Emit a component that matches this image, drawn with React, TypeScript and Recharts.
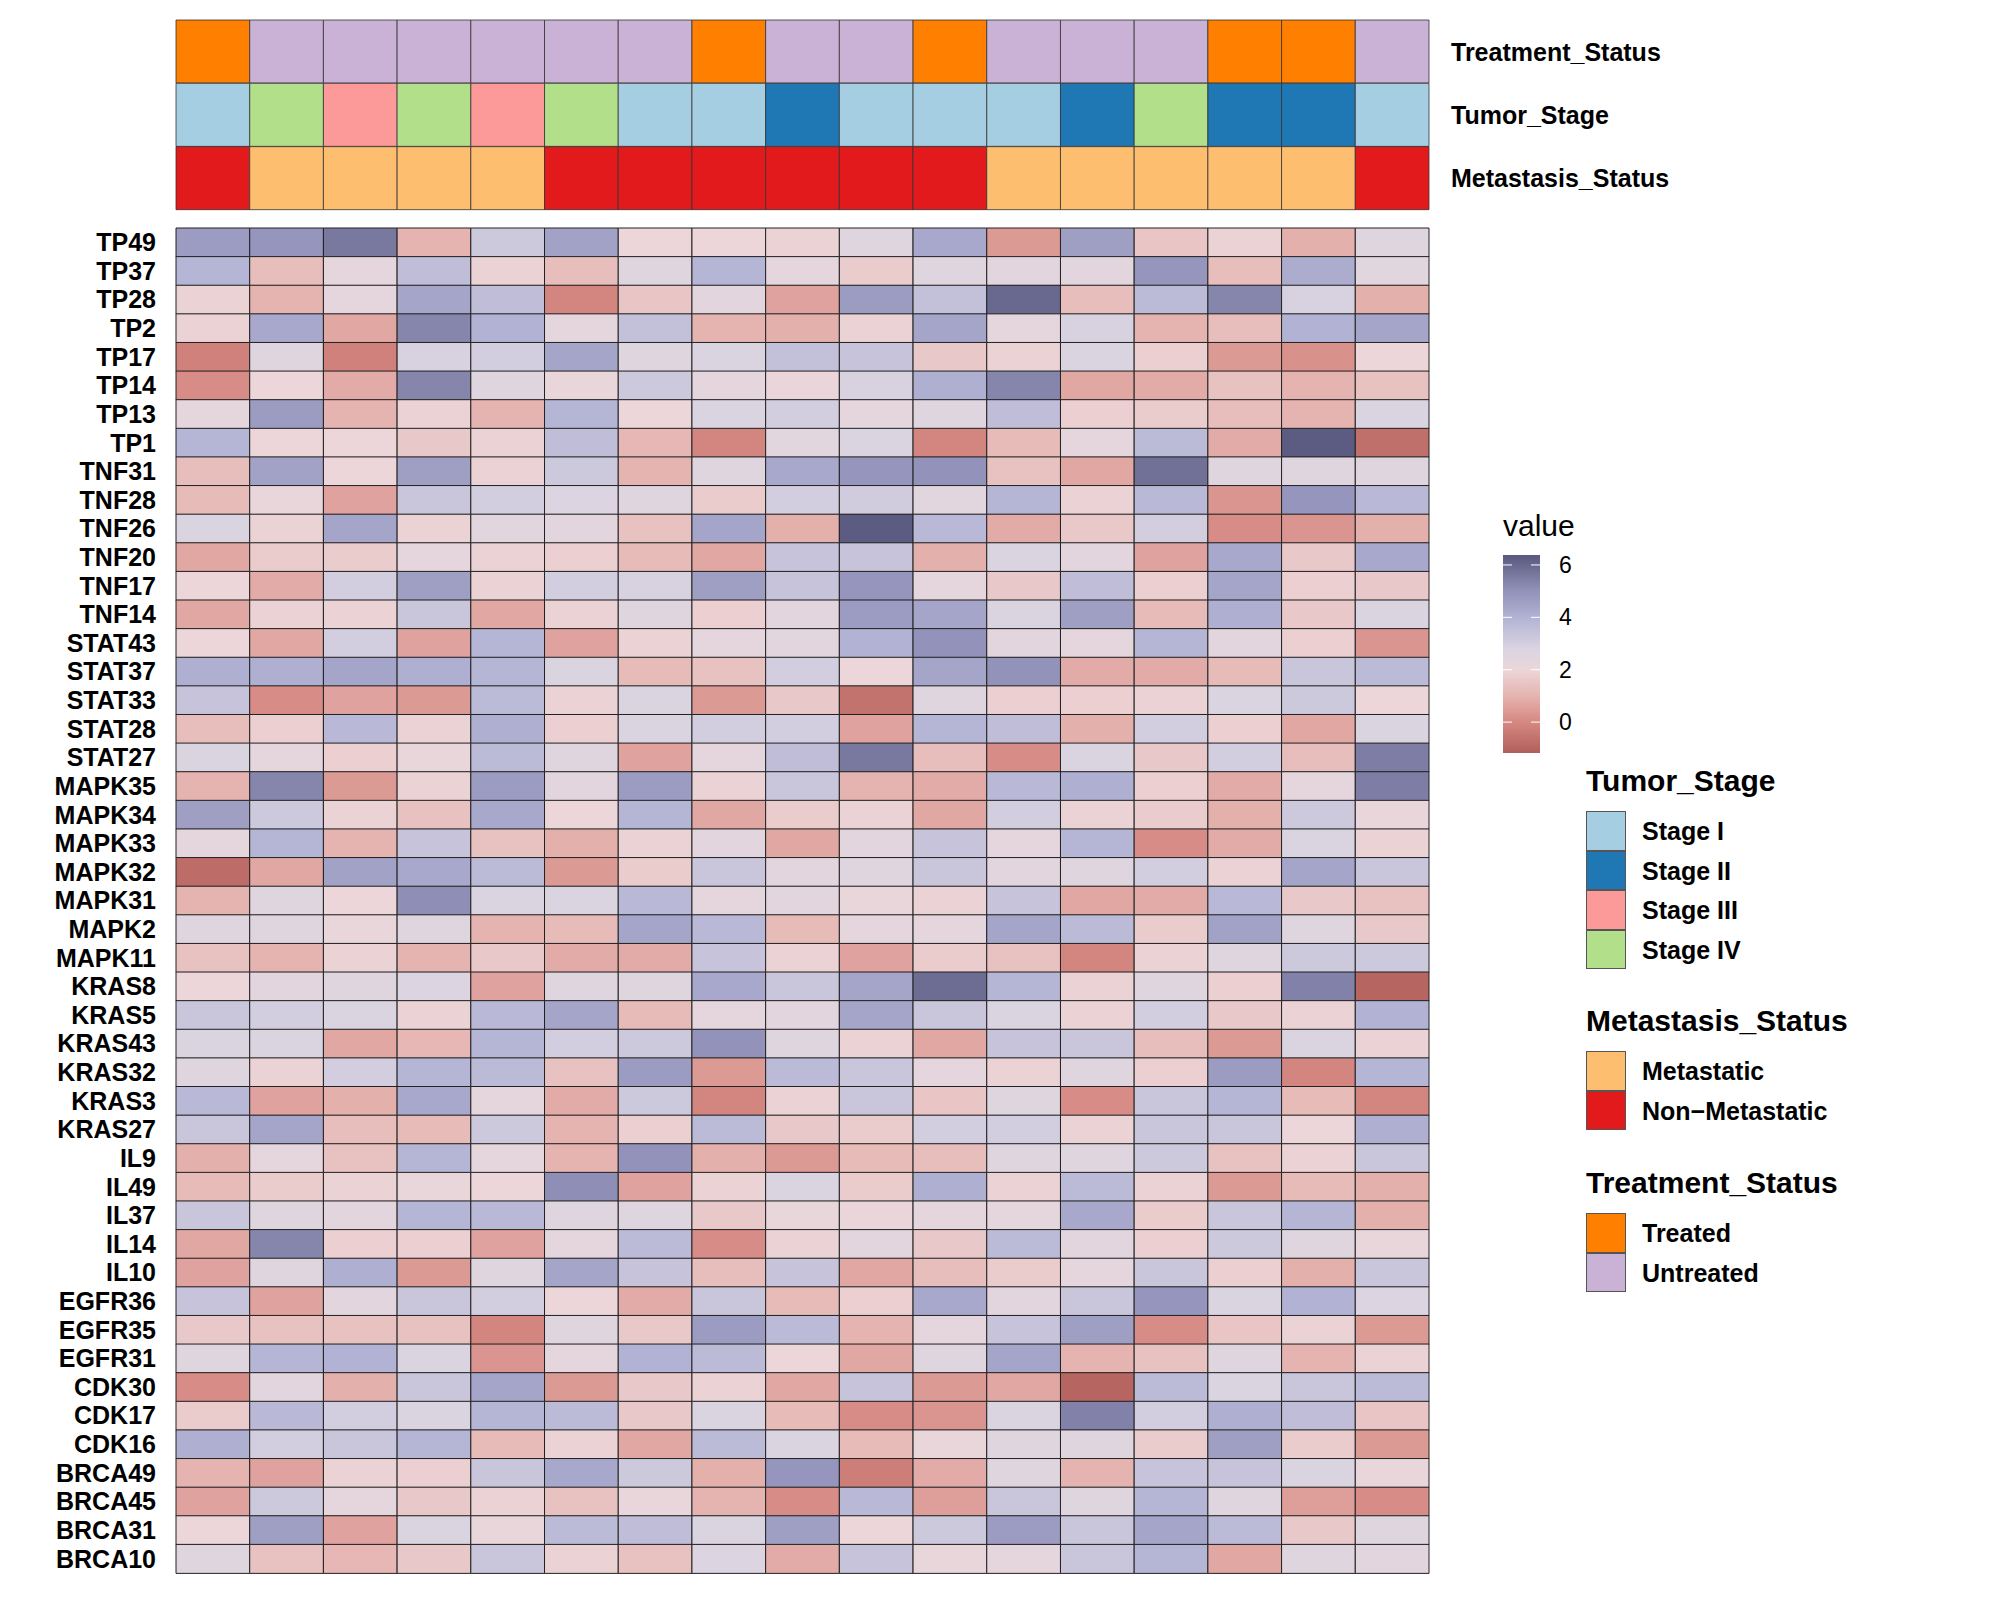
import React from 'react';
import { BarChart, Bar, XAxis, YAxis, Cell } from 'recharts';

// columns (samples) and rows (genes), top to bottom
const samples = ['S1', 'S2', 'S3', 'S4', 'S5', 'S6', 'S7', 'S8', 'S9', 'S10', 'S11', 'S12', 'S13', 'S14', 'S15', 'S16', 'S17'];
const genes = [
  'TP49', 'TP37', 'TP28', 'TP2', 'TP17', 'TP14', 'TP13', 'TP1',
  'TNF31', 'TNF28', 'TNF26', 'TNF20', 'TNF17', 'TNF14',
  'STAT43', 'STAT37', 'STAT33', 'STAT28', 'STAT27',
  'MAPK35', 'MAPK34', 'MAPK33', 'MAPK32', 'MAPK31', 'MAPK2', 'MAPK11',
  'KRAS8', 'KRAS5', 'KRAS43', 'KRAS32', 'KRAS3', 'KRAS27',
  'IL9', 'IL49', 'IL37', 'IL14', 'IL10',
  'EGFR36', 'EGFR35', 'EGFR31',
  'CDK30', 'CDK17', 'CDK16',
  'BRCA49', 'BRCA45', 'BRCA31', 'BRCA10',
];

// annotation tracks, one entry per sample
const treatment = ['Treated', 'Untreated', 'Untreated', 'Untreated', 'Untreated', 'Untreated', 'Untreated', 'Treated', 'Untreated', 'Untreated', 'Treated', 'Untreated', 'Untreated', 'Untreated', 'Treated', 'Treated', 'Untreated'];
const tumorStage = ['Stage I', 'Stage IV', 'Stage III', 'Stage IV', 'Stage III', 'Stage IV', 'Stage I', 'Stage I', 'Stage II', 'Stage I', 'Stage I', 'Stage I', 'Stage II', 'Stage IV', 'Stage II', 'Stage II', 'Stage I'];
const metastasis = ['Non-Metastatic', 'Metastatic', 'Metastatic', 'Metastatic', 'Metastatic', 'Non-Metastatic', 'Non-Metastatic', 'Non-Metastatic', 'Non-Metastatic', 'Non-Metastatic', 'Non-Metastatic', 'Metastatic', 'Metastatic', 'Metastatic', 'Metastatic', 'Metastatic', 'Non-Metastatic'];

// expression values, one row per gene (same order as genes)
const expr: number[][] = [
  [4.7, 4.9, 5.6, 1.0, 3.2, 4.5, 2.0, 2.0, 1.9, 2.6, 4.3, 0.4, 4.6, 1.5, 1.9, 0.9, 2.6], // TP49
  [3.9, 1.3, 2.3, 3.6, 1.9, 1.3, 2.6, 3.9, 2.3, 1.7, 2.6, 2.4, 2.4, 4.9, 1.3, 4.2, 2.5], // TP37
  [1.9, 1.0, 2.3, 4.4, 3.6, -0.1, 1.5, 2.4, 0.6, 4.7, 3.5, 6.0, 1.3, 3.7, 5.3, 2.9, 0.9], // TP28
  [1.9, 4.3, 0.7, 5.3, 4.0, 2.3, 3.5, 1.0, 0.9, 1.9, 4.4, 2.3, 2.9, 1.0, 1.3, 4.0, 4.4], // TP2
  [-0.2, 2.6, -0.2, 2.9, 3.0, 4.4, 2.6, 2.8, 3.5, 3.4, 1.6, 1.9, 2.8, 1.8, 0.4, 0.2, 2.0], // TP17
  [0.1, 2.0, 0.8, 5.3, 2.6, 2.2, 3.2, 2.3, 2.1, 2.9, 4.1, 5.3, 0.7, 0.8, 1.4, 1.0, 1.4], // TP14
  [2.3, 4.7, 1.0, 1.9, 1.0, 3.9, 2.0, 2.8, 3.0, 2.3, 2.6, 3.6, 1.8, 1.7, 1.3, 1.0, 2.8], // TP13
  [3.9, 2.0, 2.0, 1.6, 1.9, 3.6, 1.1, -0.1, 2.5, 2.8, -0.1, 1.2, 2.3, 3.7, 0.8, 6.3, -0.7], // TP1
  [1.3, 4.5, 2.0, 4.6, 1.9, 3.2, 1.0, 2.6, 4.3, 4.9, 5.0, 1.4, 0.7, 5.8, 2.6, 2.6, 2.6], // TNF31
  [1.2, 2.2, 0.6, 3.3, 3.0, 2.7, 2.6, 1.7, 3.0, 3.1, 2.5, 3.9, 1.9, 3.8, 0.3, 4.9, 3.8], // TNF28
  [2.8, 1.9, 4.4, 1.9, 2.5, 2.4, 1.4, 4.4, 0.9, 6.3, 3.8, 0.8, 1.6, 3.0, 0.1, 0.3, 0.9], // TNF26
  [0.7, 1.7, 1.7, 2.3, 1.9, 1.8, 1.2, 0.7, 3.4, 3.4, 0.9, 2.8, 2.4, 0.6, 4.3, 1.6, 4.3], // TNF20
  [2.0, 0.8, 3.0, 4.6, 1.9, 3.0, 2.9, 4.6, 3.4, 4.9, 2.3, 1.6, 3.6, 1.8, 4.4, 1.8, 1.6], // TNF17
  [0.7, 1.9, 1.9, 3.3, 0.7, 1.9, 2.6, 1.8, 2.4, 4.7, 4.4, 2.8, 4.6, 1.2, 4.1, 1.6, 2.8], // TNF14
  [2.0, 0.7, 3.0, 0.6, 3.9, 0.6, 1.9, 2.3, 2.4, 4.0, 5.0, 2.4, 2.3, 3.9, 2.4, 1.8, 0.3], // STAT43
  [4.1, 4.1, 4.4, 4.1, 3.9, 2.8, 1.2, 1.4, 3.0, 2.0, 4.4, 5.0, 0.8, 0.8, 1.2, 3.3, 3.7], // STAT37
  [3.4, 0.1, 0.6, 0.4, 3.7, 1.9, 2.8, 0.4, 1.6, -0.6, 2.6, 1.8, 1.8, 1.9, 2.8, 3.2, 2.0], // STAT33
  [1.3, 1.8, 3.8, 1.9, 4.1, 1.8, 2.8, 3.0, 3.0, 0.6, 3.9, 3.6, 0.9, 3.0, 1.8, 0.7, 2.8], // STAT28
  [2.8, 2.3, 1.8, 2.2, 3.7, 2.6, 0.6, 2.3, 3.6, 5.6, 1.3, 0.1, 2.8, 1.6, 3.0, 1.3, 5.5], // STAT27
  [1.0, 5.3, 0.4, 1.9, 4.7, 2.4, 4.7, 1.9, 3.3, 1.0, 0.8, 3.8, 4.1, 1.8, 0.8, 2.3, 5.5], // MAPK35
  [4.6, 3.2, 1.9, 1.4, 4.3, 2.0, 3.9, 0.7, 1.7, 1.9, 0.7, 3.0, 1.9, 1.7, 0.9, 3.2, 2.2], // MAPK34
  [2.3, 3.9, 1.0, 3.4, 1.4, 0.9, 1.9, 2.4, 0.7, 2.4, 3.4, 2.3, 3.9, 0.1, 0.8, 2.8, 1.9], // MAPK33
  [-0.8, 0.7, 4.5, 4.3, 3.7, 0.4, 1.7, 3.3, 2.4, 2.6, 3.3, 2.4, 2.6, 3.0, 1.9, 4.4, 3.3], // MAPK32
  [1.0, 2.6, 2.0, 5.1, 2.8, 2.8, 3.8, 2.3, 2.4, 2.2, 1.9, 3.4, 0.7, 0.8, 3.8, 1.6, 1.4], // MAPK31
  [2.6, 2.6, 2.2, 2.6, 1.0, 1.2, 4.4, 3.8, 1.2, 2.3, 2.3, 4.4, 3.7, 1.7, 4.5, 2.6, 1.6], // MAPK2
  [1.4, 1.0, 1.9, 1.0, 1.6, 0.8, 0.8, 3.4, 1.9, 0.6, 1.7, 1.4, -0.1, 1.9, 2.6, 3.2, 3.2], // MAPK11
  [2.0, 2.4, 2.6, 2.7, 0.6, 2.6, 2.6, 4.3, 3.3, 4.4, 5.9, 3.9, 1.9, 2.6, 1.8, 5.4, -1.0], // KRAS8
  [3.3, 3.0, 2.8, 1.9, 3.8, 4.4, 1.2, 2.3, 2.4, 4.4, 3.3, 2.8, 1.9, 3.0, 1.6, 1.9, 4.0], // KRAS5
  [2.8, 2.8, 0.7, 1.1, 3.9, 3.0, 3.2, 5.0, 2.6, 1.9, 0.7, 3.4, 3.3, 1.3, 0.4, 2.8, 1.9], // KRAS43
  [2.6, 1.9, 3.0, 3.9, 3.7, 1.4, 4.7, 0.4, 3.7, 3.3, 2.3, 1.9, 2.6, 1.8, 4.7, -0.1, 3.9], // KRAS32
  [3.8, 0.6, 0.9, 4.3, 2.3, 0.8, 3.2, -0.1, 1.9, 3.3, 1.5, 2.6, 0.1, 3.3, 3.9, 1.2, -0.1], // KRAS3
  [3.3, 4.4, 1.3, 1.2, 3.2, 1.0, 1.8, 3.7, 1.6, 1.7, 3.0, 3.0, 1.9, 3.3, 3.3, 2.0, 4.1], // KRAS27
  [0.9, 2.3, 1.4, 3.9, 2.3, 1.0, 5.0, 0.9, 0.4, 1.2, 1.3, 2.6, 2.6, 3.2, 1.4, 1.9, 3.3], // IL9
  [1.2, 1.7, 1.9, 2.2, 2.0, 5.1, 0.6, 1.9, 2.8, 1.7, 4.1, 1.9, 3.7, 1.9, 0.4, 1.2, 0.9], // IL49
  [3.3, 2.6, 2.4, 3.9, 3.8, 2.6, 2.6, 1.6, 2.2, 2.1, 2.3, 2.3, 4.3, 1.7, 3.3, 3.9, 0.9], // IL37
  [0.7, 5.3, 1.8, 1.8, 0.6, 2.3, 3.7, 0.1, 1.9, 2.4, 1.6, 3.7, 2.4, 1.8, 3.2, 2.6, 2.2], // IL14
  [0.6, 2.6, 4.1, 0.4, 2.6, 4.4, 3.4, 1.3, 3.4, 0.7, 1.3, 1.7, 2.3, 3.3, 1.8, 0.9, 3.3], // IL10
  [3.4, 0.6, 2.4, 3.3, 3.0, 2.0, 0.8, 3.3, 1.2, 1.8, 4.3, 2.4, 3.3, 4.9, 2.8, 4.0, 2.7], // EGFR36
  [1.6, 1.4, 1.4, 1.4, -0.1, 2.6, 1.6, 4.7, 3.7, 1.0, 2.3, 3.4, 4.6, 0.1, 1.5, 1.9, 0.4], // EGFR35
  [2.6, 3.9, 4.0, 2.8, 0.3, 2.3, 4.0, 3.7, 2.0, 0.7, 2.6, 4.4, 1.0, 1.4, 2.6, 1.0, 1.9], // EGFR31
  [0.1, 2.4, 0.9, 3.3, 4.4, 0.4, 1.6, 1.9, 0.7, 3.4, 0.4, 0.7, -1.0, 3.7, 2.8, 3.3, 3.7], // CDK30
  [1.7, 3.8, 3.0, 2.8, 3.9, 3.7, 1.6, 2.8, 1.2, 0.1, 0.3, 2.8, 5.4, 3.0, 4.1, 3.6, 1.5], // CDK17
  [4.1, 3.0, 3.3, 3.9, 1.2, 1.9, 0.7, 3.7, 2.8, 1.2, 2.2, 2.6, 2.6, 1.7, 4.6, 1.7, 0.4], // CDK16
  [1.0, 0.6, 1.9, 1.8, 3.3, 4.3, 3.2, 0.9, 4.9, -0.3, 0.8, 2.6, 1.0, 3.4, 3.4, 2.8, 2.2], // BRCA49
  [0.6, 3.2, 2.3, 1.6, 1.9, 1.4, 2.2, 1.0, 0.1, 3.8, 0.5, 3.3, 2.6, 3.9, 2.6, 0.5, 0.1], // BRCA45
  [2.0, 4.6, 0.6, 2.8, 2.2, 3.7, 3.6, 2.8, 4.6, 2.0, 3.2, 4.7, 3.3, 4.4, 3.7, 1.6, 2.6], // BRCA31
  [2.6, 1.4, 1.1, 1.6, 3.3, 1.9, 1.4, 2.7, 0.8, 3.4, 2.2, 2.3, 3.3, 3.9, 0.7, 2.6, 2.4], // BRCA10
];

// legend
const legendTicks = [6, 4, 2, 0];
const legendMin = -1.18;
const legendMax = 6.38;

const stageColors: Record<string, string> = {
  'Stage I': '#A6CEE3', 'Stage II': '#1F78B4', 'Stage III': '#FB9A99', 'Stage IV': '#B2DF8A',
};
const metaColors: Record<string, string> = { 'Metastatic': '#FDBF6F', 'Non-Metastatic': '#E31A1C' };
const treatColors: Record<string, string> = { 'Treated': '#FF7F00', 'Untreated': '#CAB2D6' };

const FONT = '"Liberation Sans", Arial, Helvetica, sans-serif';

// value -> colour ramp (red - white - navy, muted)
const ramp: [number, number[]][] = [
  [-1.2, [176, 94, 90]],
  [0, [214, 136, 130]],
  [1, [229, 180, 176]],
  [2, [236, 214, 217]],
  [2.8, [218, 212, 225]],
  [4, [178, 178, 212]],
  [5, [146, 146, 186]],
  [6.4, [88, 88, 126]],
];

function valueColor(v: number) {
  if (v <= ramp[0][0]) return `rgb(${ramp[0][1].join(',')})`;
  for (let i = 1; i < ramp.length; i++) {
    const [v1, c1] = ramp[i];
    const [v0, c0] = ramp[i - 1];
    if (v <= v1) {
      const t = (v - v0) / (v1 - v0);
      const c = c0.map((x, k) => Math.round(x + (c1[k] - x) * t));
      return `rgb(${c.join(',')})`;
    }
  }
  return `rgb(${ramp[ramp.length - 1][1].join(',')})`;
}

const heatData = genes.map((gene) => {
  const row: Record<string, string | number> = { gene };
  samples.forEach((s) => { row[s] = 1; });
  return row;
});

const annoNames = ['Treatment_Status', 'Tumor_Stage', 'Metastasis_Status'];
const annoTracks = [treatment, tumorStage, metastasis];
const annoPalettes = [treatColors, stageColors, metaColors];
const annoData = annoNames.map((name) => {
  const row: Record<string, string | number> = { name };
  samples.forEach((s) => { row[s] = 1; });
  return row;
});

function Label({ left, top, children, size = 25, bold = true }: any) {
  return (
    <div style={{
      position: 'absolute', left, top, transform: 'translateY(-50%)', fontSize: size,
      fontWeight: bold ? 700 : 400, lineHeight: 1, whiteSpace: 'nowrap', fontFamily: FONT, color: '#000',
    }}>{children}</div>
  );
}

function KeyLegend({ title, items, colors, top }: { title: string; items: string[]; colors: Record<string, string>; top: number }) {
  return (
    <>
      <Label left={1586} top={top} size={30}>{title}</Label>
      {items.map((it, i) => (
        <React.Fragment key={it}>
          <div style={{
            position: 'absolute', left: 1586, top: top + 30 + i * 39.6, width: 40, height: 39.6,
            background: colors[it], boxSizing: 'border-box', border: '1.5px solid #555',
          }} />
          <Label left={1642} top={top + 30 + i * 39.6 + 20}>{it.replace('-', '\u2212')}</Label>
        </React.Fragment>
      ))}
    </>
  );
}

function ColorBar() {
  const h = 198;
  const w = 37;
  const left = 1503;
  const top = 555;
  const yOf = (v: number) => ((legendMax - v) / (legendMax - legendMin)) * h;
  const stops = ramp.filter(([v]) => v >= legendMin && v <= legendMax);
  return (
    <>
      <Label left={left} top={526} size={30} bold={false}>value</Label>
      <svg style={{ position: 'absolute', left, top }} width={w} height={h}>
        <defs>
          <linearGradient id="valGrad" x1="0" y1="0" x2="0" y2="1">
            <stop offset="0%" stopColor={valueColor(legendMax)} />
            {stops.slice().reverse().map(([v]) => (
              <stop key={v} offset={`${(yOf(v) / h) * 100}%`} stopColor={valueColor(v)} />
            ))}
            <stop offset="100%" stopColor={valueColor(legendMin)} />
          </linearGradient>
        </defs>
        <rect x={0} y={0} width={w} height={h} fill="url(#valGrad)" />
        {legendTicks.map((t) => (
          <g key={t}>
            <line x1={0} x2={9} y1={yOf(t)} y2={yOf(t)} stroke="#fff" strokeWidth={1} />
            <line x1={w - 9} x2={w} y1={yOf(t)} y2={yOf(t)} stroke="#fff" strokeWidth={1} />
          </g>
        ))}
      </svg>
      {legendTicks.map((t) => (
        <Label key={t} left={1559} top={top + yOf(t)} size={23} bold={false}>{t}</Label>
      ))}
    </>
  );
}

export default function App() {
  return (
    <div style={{ position: 'absolute', left: 0, top: 0, width: 2000, height: 1600, background: '#fff', fontFamily: FONT }}>
      {/* main heatmap */}
      <div style={{ position: 'absolute', left: 0, top: 0 }}>
        <BarChart
          layout="vertical"
          width={1444}
          height={1600}
          data={heatData}
          margin={{ top: 228, right: 15, bottom: 27, left: 8 }}
          barCategoryGap={0}
        >
          <XAxis type="number" domain={[0, samples.length]} hide />
          <YAxis
            type="category"
            dataKey="gene"
            width={168}
            axisLine={false}
            tickLine={false}
            tickMargin={14}
            interval={0}
            tick={{ fontSize: 25, fontWeight: 700, fill: '#000', fontFamily: FONT }}
          />
          {samples.map((s, j) => (
            <Bar key={s} dataKey={s} stackId="h" isAnimationActive={false} stroke="#222" strokeWidth={1}>
              {genes.map((g, i) => <Cell key={g} fill={valueColor(expr[i][j])} />)}
            </Bar>
          ))}
        </BarChart>
      </div>

      {/* annotation tracks */}
      <div style={{ position: 'absolute', left: 0, top: 0 }}>
        <BarChart
          layout="vertical"
          width={1800}
          height={230}
          data={annoData}
          margin={{ top: 20, right: 8, bottom: 20, left: 176 }}
          barCategoryGap={0}
        >
          <XAxis type="number" domain={[0, samples.length]} hide />
          <YAxis
            type="category"
            dataKey="name"
            orientation="right"
            width={363}
            axisLine={false}
            tickLine={false}
            tickMargin={16}
            interval={0}
            tick={{ fontSize: 25, fontWeight: 700, fill: '#000', fontFamily: FONT, textAnchor: 'start' }}
          />
          {samples.map((s, j) => (
            <Bar key={s} dataKey={s} stackId="a" isAnimationActive={false} stroke="#333" strokeWidth={0.8}>
              {annoNames.map((n, i) => <Cell key={n} fill={annoPalettes[i][annoTracks[i][j]]} />)}
            </Bar>
          ))}
        </BarChart>
      </div>

      <ColorBar />
      <KeyLegend title="Tumor_Stage" items={['Stage I', 'Stage II', 'Stage III', 'Stage IV']} colors={stageColors} top={781} />
      <KeyLegend title="Metastasis_Status" items={['Metastatic', 'Non-Metastatic']} colors={metaColors} top={1021} />
      <KeyLegend title="Treatment_Status" items={['Treated', 'Untreated']} colors={treatColors} top={1183} />
    </div>
  );
}
